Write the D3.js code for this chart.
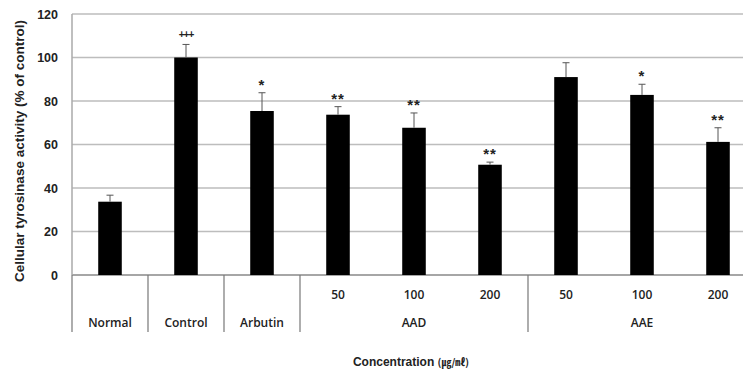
<!DOCTYPE html>
<html>
<head>
<meta charset="utf-8">
<script src="https://cdn.jsdelivr.net/npm/d3@7"></script>
<style>
body { margin: 0; background: #fff; }
svg { display: block; }
</style>
</head>
<body>
<script>
var width = 743, height = 371;

// data
var categories = ['Normal', 'Control', 'Arbutin', 'AAD 50', 'AAD 100', 'AAD 200', 'AAE 50', 'AAE 100', 'AAE 200'];
var doseLabels = ['', '', '', '50', '100', '200', '50', '100', '200'];
var values = [33.7, 100, 75.4, 73.7, 67.7, 50.7, 91, 82.8, 61.2];
var errors = [3, 6, 8.4, 3.7, 6.8, 1.2, 6.6, 4.9, 6.5];
var marks = ['', '+++', '*', '**', '**', '**', '', '*', '**'];
var groups = [
    {name: 'Normal', from: 0, to: 0},
    {name: 'Control', from: 1, to: 1},
    {name: 'Arbutin', from: 2, to: 2},
    {name: 'AAD', from: 3, to: 5},
    {name: 'AAE', from: 6, to: 8}
];
var yTicks = [0, 20, 40, 60, 80, 100, 120];

var x0 = 72, y0 = 275, yTop = 14;
var x = d3.scaleBand().domain(categories).range([x0, 756]).paddingInner(0.69).paddingOuter(0.345);
var y = d3.scaleLinear().domain([0, 120]).range([y0, yTop]);
var labelFont = 'Open Sans, Noto Sans, sans-serif';
var boldFont = 'Liberation Sans, Arial, sans-serif';

var svg = d3.select('body').append('svg')
    .attr('width', width)
    .attr('height', height);

// grid
svg.selectAll('.grid')
    .data(yTicks)
    .enter().append('line')
    .attr('class', 'grid')
    .attr('x1', x0)
    .attr('x2', width)
    .attr('y1', function(d) { return y(d); })
    .attr('y2', function(d) { return y(d); })
    .style('stroke', function(d) { return d == 0 ? '#888' : '#bdbdbd'; })
    .style('stroke-width', 1.5);

svg.append('line')
    .attr('x1', x0).attr('x2', x0)
    .attr('y1', yTop).attr('y2', y0)
    .style('stroke', '#aaa')
    .style('stroke-width', 1.5);

// y axis labels
var yAxis = d3.axisLeft(y).tickValues(yTicks).tickSize(0).tickPadding(14);
var ya = svg.append('g').attr('transform', 'translate(' + x0 + ',0)').call(yAxis);
ya.select('.domain').remove();
ya.selectAll('text')
    .style('font-family', boldFont)
    .style('font-weight', 'bold')
    .style('font-size', '12.5px')
    .style('fill', '#222');

svg.append('text')
    .attr('transform', 'translate(19,151) rotate(-90)')
    .attr('text-anchor', 'middle')
    .attr('dy', '0.35em')
    .style('font-family', boldFont)
    .style('font-weight', 'bold')
    .style('font-size', '13.5px')
    .style('fill', '#222')
    .text('Cellular tyrosinase activity (% of control)');

// bars
var idx = d3.range(categories.length);
svg.selectAll('.bar')
    .data(idx)
    .enter().append('rect')
    .attr('class', 'bar')
    .attr('x', function(i) { return x(categories[i]); })
    .attr('y', function(i) { return y(values[i]); })
    .attr('width', x.bandwidth())
    .attr('height', function(i) { return y0 - y(values[i]); })
    .style('fill', '#000');

// error bars (upper only)
var cx = function(i) { return x(categories[i]) + x.bandwidth() / 2; };
svg.selectAll('.err')
    .data(idx)
    .enter().append('line')
    .attr('x1', cx).attr('x2', cx)
    .attr('y1', function(i) { return y(values[i]); })
    .attr('y2', function(i) { return y(values[i] + errors[i]); })
    .style('stroke', '#555')
    .style('stroke-width', 1);
svg.selectAll('.cap')
    .data(idx)
    .enter().append('line')
    .attr('x1', function(i) { return cx(i) - 3.5; })
    .attr('x2', function(i) { return cx(i) + 3.5; })
    .attr('y1', function(i) { return y(values[i] + errors[i]); })
    .attr('y2', function(i) { return y(values[i] + errors[i]); })
    .style('stroke', '#555')
    .style('stroke-width', 1);

// significance marks
svg.selectAll('.mark')
    .data(idx)
    .enter().append('text')
    .attr('x', cx)
    .attr('y', function(i) { return y(values[i] + errors[i]) - (marks[i] == '+++' ? 6 : 3); })
    .attr('text-anchor', 'middle')
    .style('font-family', boldFont)
    .style('font-weight', 'bold')
    .style('font-size', function(i) { return marks[i] == '+++' ? '10px' : '15px'; })
    .style('letter-spacing', function(i) { return marks[i] == '+++' ? '-1px' : '1px'; })
    .style('fill', '#222')
    .text(function(i) { return marks[i]; });

// category table below axis
var left = function(i) { return x(categories[i]) - (x.step() - x.bandwidth()) / 2; };
svg.selectAll('.sep')
    .data(groups)
    .enter().append('line')
    .attr('x1', function(g) { return left(g.from); })
    .attr('x2', function(g) { return left(g.from); })
    .attr('y1', y0)
    .attr('y2', 332)
    .style('stroke', '#777')
    .style('stroke-width', 1.2);

svg.selectAll('.dose')
    .data(idx)
    .enter().append('text')
    .attr('x', cx)
    .attr('y', 295)
    .attr('dy', '0.35em')
    .attr('text-anchor', 'middle')
    .style('font-family', labelFont)
    .style('font-weight', 600)
    .style('font-size', '12px')
    .style('fill', '#222')
    .text(function(i) { return doseLabels[i]; });

svg.selectAll('.group')
    .data(groups)
    .enter().append('text')
    .attr('x', function(g) { return (cx(g.from) + cx(g.to)) / 2; })
    .attr('y', 323)
    .attr('dy', '0.35em')
    .attr('text-anchor', 'middle')
    .style('font-family', labelFont)
    .style('font-weight', 600)
    .style('font-size', '12px')
    .style('fill', '#222')
    .text(function(g) { return g.name; });

var title = svg.append('text')
    .attr('x', 411)
    .attr('y', 362)
    .attr('dy', '0.35em')
    .attr('text-anchor', 'middle')
    .style('font-family', boldFont)
    .style('font-weight', 'bold')
    .style('font-size', '12px')
    .style('fill', '#222');
title.append('tspan').text('Concentration ');
title.append('tspan')
    .style('font-family', 'Noto Sans CJK KR, sans-serif')
    .style('font-size', '10px')
    .text('(㎍/㎖)');
</script>
</body>
</html>
